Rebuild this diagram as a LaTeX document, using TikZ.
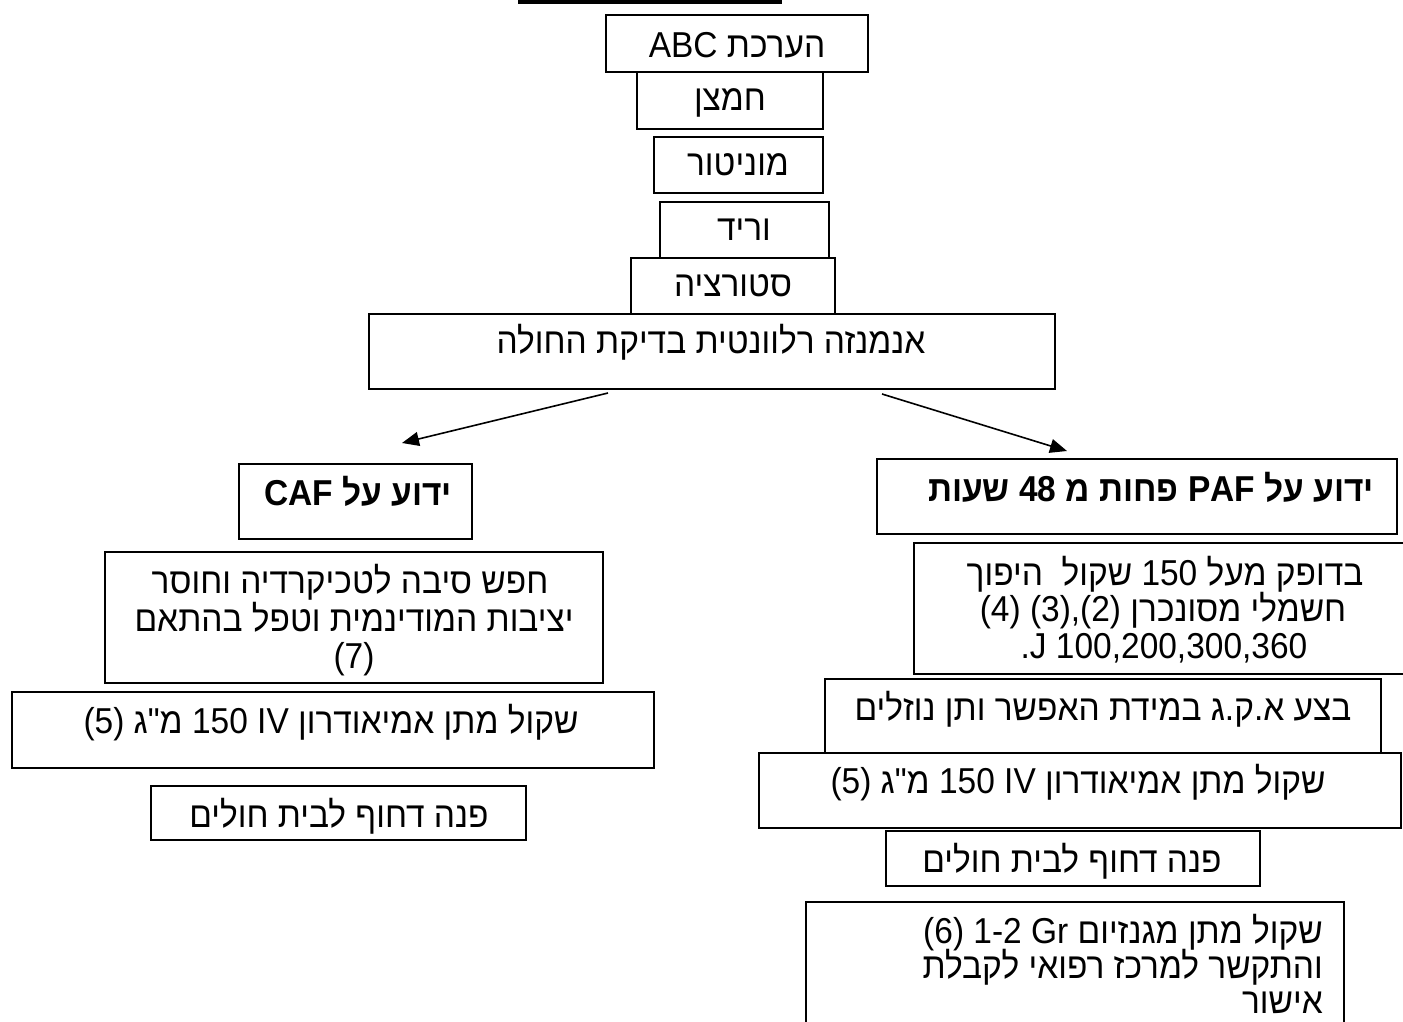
\documentclass[tikz,border=0pt]{standalone}
\usepackage{fontspec}
\setmainfont{Liberation Sans}[FakeStretch=0.93]
\newfontfamily\hebfont[Script=Hebrew, FakeStretch=0.93]{Liberation Sans}
\TeXXeTstate=1
\usetikzlibrary{arrows.meta}

% one right-to-left line of text
\newcommand{\rtltext}[1]{{\hebfont\beginR #1\endR}}

\tikzset{
  box/.style={draw=black, line width=1.8pt, inner sep=0pt, outer sep=0pt},
  txt/.style={inner sep=0pt, anchor=base, font=\fontsize{36}{42}\selectfont},
  txtr/.style={txt, anchor=base east},
  bold/.style={font=\fontsize{36}{42}\selectfont\bfseries},
  flow/.style={line width=1.6pt, -{Triangle[length=17pt,width=14pt]}},
}

% box from corner (x1,y1) to corner (x2,y2), in pixels with y downwards
\newcommand{\flowbox}[5]{%
  \node[box, minimum width={#4-#2}, minimum height={#5-#3}]
    (#1) at ({(#2+#4)/2},{(#3+#5)/2}) {};}

\begin{document}
\begin{tikzpicture}[x=1pt,y=-1pt]
\useasboundingbox (0,0) rectangle (1403,1021);
\clip (0,0) rectangle (1403,1021);

% rule under the heading
\node[fill=black, inner sep=0pt, minimum width=264pt, minimum height=3.5pt] (titlerule) at (650,1.75) {};

% first aid chain
\flowbox{abc}{606}{15}{868}{72}
\flowbox{oxy}{637}{72}{823}{129}
\flowbox{mon}{654}{137}{823}{193}
\flowbox{vein}{660}{202}{829}{258}
\flowbox{sat}{631}{258}{835}{314}
\flowbox{hist}{369}{314}{1055}{389}

\node[txt] (abc-t) at (737,57) {\rtltext{הערכת ABC}};
\node[txt] (oxy-t) at (730,110) {\rtltext{חמצן}};
\node[txt] (mon-t) at (738,175) {\rtltext{מוניטור}};
\node[txt] (vein-t) at (744,240) {\rtltext{וריד}};
\node[txt] (sat-t) at (733,296) {\rtltext{סטורציה}};
\node[txt] (hist-t) at (711,353) {\rtltext{אנמנזה רלוונטית בדיקת החולה}};

% branch: CAF
\flowbox{caf}{239}{464}{472}{539}
\flowbox{cause}{105}{552}{603}{683}
\flowbox{cafamio}{12}{692}{654}{768}
\flowbox{cafhosp}{151}{786}{526}{840}

\node[txt, bold] (caf-t) at (358,505) {\rtltext{ידוע על CAF}};
\node[txt] (cause-a) at (350,593) {\rtltext{חפש סיבה לטכיקרדיה וחוסר}};
\node[txt] (cause-b) at (354,631) {\rtltext{יציבות המודינמית וטפל בהתאם}};
\node[txt] (cause-c) at (354,668) {(7)};
\node[txt] (cafamio-t) at (331,733) {\rtltext{שקול מתן אמיאודרון IV 150 מ"ג (5)}};
\node[txt] (cafhosp-t) at (339,827) {\rtltext{פנה דחוף לבית חולים}};

% branch: PAF
\flowbox{paf}{877}{459}{1397}{534}
\flowbox{cardio}{914}{543}{1414}{674}
\flowbox{ecg}{825}{679}{1381}{753}
\flowbox{pafamio}{759}{753}{1401}{828}
\flowbox{pafhosp}{886}{831}{1260}{886}
\flowbox{mag}{806}{902}{1344}{1040}

\node[txtr, bold] (paf-t) at (1374,501) {\rtltext{ידוע על PAF פחות מ 48 שעות}};
\node[txt] (cardio-a) at (1165,585) {\rtltext{בדופק מעל 150 שקול\ \ היפוך}};
\node[txt] (cardio-b) at (1163,621.5) {\rtltext{חשמלי מסונכרן (2),(3) (4)}};
\node[txt] (cardio-c) at (1164,658) {.J 100,200,300,360};
\node[txt] (ecg-t) at (1103,720) {\rtltext{בצע א.ק.ג במידת האפשר ותן נוזלים}};
\node[txt] (pafamio-t) at (1078,793) {\rtltext{שקול מתן אמיאודרון IV 150 מ"ג (5)}};
\node[txt] (pafhosp-t) at (1072,872) {\rtltext{פנה דחוף לבית חולים}};
\node[txtr] (mag-a) at (1323,943) {\rtltext{שקול מתן מגנזיום Gr 1-2 (6)}};
\node[txtr] (mag-b) at (1323,978) {\rtltext{והתקשר למרכז רפואי לקבלת}};
\node[txtr] (mag-c) at (1323,1013) {\rtltext{אישור}};

% arrows from the history box to both branches
\coordinate (hist-l) at (608,393);
\coordinate (caf-in) at (402,443);
\coordinate (hist-r) at (882,394);
\coordinate (paf-in) at (1067,451);
\draw[flow] (hist-l) -- (caf-in);
\draw[flow] (hist-r) -- (paf-in);
\end{tikzpicture}
\end{document}
